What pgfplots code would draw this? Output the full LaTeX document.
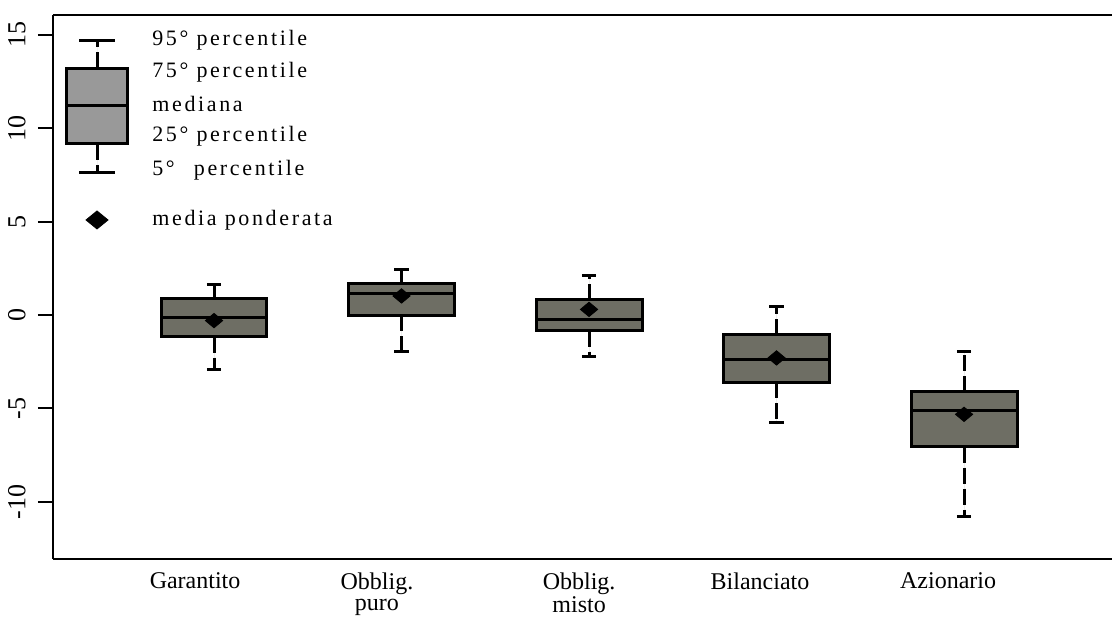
\documentclass[border=0pt]{standalone}
\usepackage{pgfplots}
\pgfplotsset{compat=1.18}
\usepgfplotslibrary{statistics}
\usepackage{fontspec}
\setmainfont{Liberation Serif}
\newfontfamily\spaced[LetterSpace=12]{Liberation Serif}

\definecolor{boxfill}{RGB}{110,110,100}
\definecolor{keyfill}{RGB}{153,153,153}

\pgfplotsset{
  mybox/.style={
    boxplot prepared,
    draw=black, line width=1.5pt,
    boxplot/draw/lower whisker/.code={
      \draw[dash pattern=on 8pt off 2.5pt]
        (boxplot cs:\pgfplotsboxplotvalue{lower quartile}) --
        (boxplot cs:\pgfplotsboxplotvalue{lower whisker});
      \draw (boxplot whisker cs:\pgfplotsboxplotvalue{lower whisker},0) --
        (boxplot whisker cs:\pgfplotsboxplotvalue{lower whisker},1);
    },
    boxplot/draw/upper whisker/.code={
      \draw[dash pattern=on 8pt off 2.5pt]
        (boxplot cs:\pgfplotsboxplotvalue{upper quartile}) --
        (boxplot cs:\pgfplotsboxplotvalue{upper whisker});
      \draw (boxplot whisker cs:\pgfplotsboxplotvalue{upper whisker},0) --
        (boxplot whisker cs:\pgfplotsboxplotvalue{upper whisker},1);
    },
  },
}

\begin{document}
\begin{tikzpicture}
\begin{axis}[
  at={(0,0)}, anchor=south west,
  scale only axis,
  width=529.5pt, height=272pt,
  xmin=0.1413, xmax=5.789,
  ymin=-13.07, ymax=16.07,
  axis x line*=box, axis y line*=left,
  axis line style={line width=1.2pt, -},
  ytick={-10,-5,0,5,10,15},
  ytick align=outside,
  major tick length=7.5pt,
  ytick style={line width=1pt, black},
  yticklabel style={rotate=90, anchor=south, inner sep=0pt, yshift=6pt,
    font=\fontsize{13}{15}\selectfont},
  /pgf/number format/assume math mode=true,
  xtick={0.899,1.869,2.947,3.912,4.915},
  xticklabels={Garantito, Obblig.\\puro, Obblig.\\misto, Bilanciato, Azionario},
  xtick style={draw=none},
  xticklabel style={align=center, anchor=north, inner sep=0pt, yshift=-6.5pt,
    font=\fontsize{12}{10.5}\selectfont},
  clip=false,
  boxplot/draw direction=y,
]
% key glyph
\addplot[mybox, fill=keyfill,
  boxplot/box extend=0.325, boxplot/whisker extend=0.187,
  boxplot prepared={draw position=0.376,
    lower whisker=7.61, lower quartile=9.16, median=11.2,
    upper quartile=13.23, upper whisker=14.69}]
  coordinates {};
\addplot[only marks, mark=diamond*, mark size=4.5pt,
  mark options={xscale=1.63, line width=0.4pt, fill=black}]
  coordinates {(0.376,5.09)};

% data boxes
\addplot[mybox, fill=boxfill,
  boxplot/box extend=0.565, boxplot/whisker extend=0.077,
  boxplot prepared={draw position=1,
    lower whisker=-2.9, lower quartile=-1.16, median=-0.14,
    upper quartile=0.86, upper whisker=1.62}]
  coordinates {};
\addplot[mybox, fill=boxfill,
  boxplot/box extend=0.565, boxplot/whisker extend=0.077,
  boxplot prepared={draw position=2,
    lower whisker=-1.96, lower quartile=0.0, median=1.14,
    upper quartile=1.68, upper whisker=2.46}]
  coordinates {};
\addplot[mybox, fill=boxfill,
  boxplot/box extend=0.565, boxplot/whisker extend=0.077,
  boxplot prepared={draw position=3,
    lower whisker=-2.2, lower quartile=-0.84, median=-0.23,
    upper quartile=0.82, upper whisker=2.1}]
  coordinates {};
\addplot[mybox, fill=boxfill,
  boxplot/box extend=0.565, boxplot/whisker extend=0.077,
  boxplot prepared={draw position=4,
    lower whisker=-5.75, lower quartile=-3.61, median=-2.36,
    upper quartile=-1.07, upper whisker=0.43}]
  coordinates {};
\addplot[mybox, fill=boxfill,
  boxplot/box extend=0.565, boxplot/whisker extend=0.077,
  boxplot prepared={draw position=5,
    lower whisker=-10.77, lower quartile=-7.05, median=-5.14,
    upper quartile=-4.1, upper whisker=-1.98}]
  coordinates {};

% weighted means
\addplot[only marks, mark=diamond*, mark size=3.6pt,
  mark options={xscale=1.6, line width=0.4pt, fill=black}]
  coordinates {(1,-0.3) (2,1.02) (3,0.3) (4,-2.3) (5,-5.32)};

% key text
\begin{scope}[every node/.style={anchor=west, inner sep=0pt,
    font=\fontsize{11}{13}\selectfont\spaced}]
\node at (axis cs:0.669,14.7) {95° percentile};
\node at (axis cs:0.669,13.0) {75° percentile};
\node at (axis cs:0.669,11.3) {mediana};
\node at (axis cs:0.669,9.6) {25° percentile};
\node at (axis cs:0.669,7.77) {5°\hphantom{9} percentile};
\node at (axis cs:0.669,5.09) {media ponderata};
\end{scope}
\end{axis}
\pgfresetboundingbox
\path[use as bounding box] (-26.5pt,-31pt) rectangle (529.5pt,279.5pt);
\end{tikzpicture}
\end{document}
